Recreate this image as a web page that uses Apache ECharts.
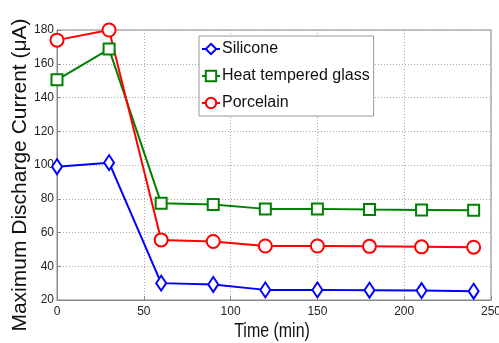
<!DOCTYPE html>
<html><head><meta charset="utf-8">
<script src="https://cdn.jsdelivr.net/npm/echarts@6/dist/echarts.min.js"></script>
<style>html,body{margin:0;padding:0;background:#fff}#c{width:499px;height:343px}</style>
</head><body><div id="c"></div>
<script>
const times = [0, 30, 60, 90, 120, 150, 180, 210, 240];
const silicone = [99, 101.4, 30, 29.2, 26, 26, 25.8, 25.6, 25.2];
const glass = [150.5, 168.7, 77.4, 76.6, 74, 74, 73.6, 73.4, 73.2];
const porcelain = [174, 180, 55.6, 54.7, 52, 52, 51.8, 51.5, 51.3];
const xTicks = [0, 50, 100, 150, 200, 250];
const yTicks = [20, 40, 60, 80, 100, 120, 140, 160, 180];
const xTitle = 'Time (min)';
const yTitle = 'Maximum Discharge Current (μA)';

const font = '"Liberation Sans", Arial, sans-serif';
function pairs(v){ return times.map((t,i)=>[t,v[i]]); }
function ser(name, data, color, symbol, size){
  return {name, type:'line', data:pairs(data), symbol, symbolSize:size,
    showSymbol:true, lineStyle:{color, width:2}, itemStyle:{color, borderColor:color, borderWidth:1.8},
    emphasis:{disabled:true}, z:3};
}
const chart = echarts.init(document.getElementById('c'), null, {renderer:'canvas'});
chart.setOption({
  animation:false,
  backgroundColor:'#fff',
  grid:{left:57, right:8, top:30, bottom:43, show:true, borderColor:'#888', borderWidth:1,
    containLabel:false, outerBoundsMode:'none'},
  xAxis:{type:'value', min:0, max:250, interval:50,
    axisLine:{show:true, lineStyle:{color:'#888'}},
    axisTick:{show:true, inside:true, length:4, lineStyle:{color:'#888'}},
    axisLabel:{fontFamily:font, fontSize:12, color:'#222', margin:6,
      formatter:v=>xTicks.includes(v)?String(v):''},
    splitLine:{show:true, lineStyle:{color:'#aaa', type:[1,2], width:1}}},
  yAxis:{type:'value', min:20, max:180, interval:20,
    axisLine:{show:true, lineStyle:{color:'#888'}},
    axisTick:{show:true, inside:true, length:4, lineStyle:{color:'#888'}},
    axisLabel:{fontFamily:font, fontSize:12, color:'#222', margin:3,
      formatter:v=>yTicks.includes(v)?String(v):''},
    splitLine:{show:true, lineStyle:{color:'#aaa', type:[1,2], width:1}}},
  graphic:[
    {type:'text', x:272, y:331, scaleX:0.76, style:{text:xTitle, font:'21px '+font, fill:'#111', align:'center', verticalAlign:'middle'}},
    {type:'text', x:20, y:175, rotation:Math.PI/2, style:{text:yTitle, font:'21px '+font, fill:'#111', align:'center', verticalAlign:'middle'}}
  ],
  legend:{left:199, top:36, orient:'vertical', itemGap:11, itemWidth:18, itemHeight:13,
    padding:[5,4,5,2], backgroundColor:'#fff', borderColor:'#999', borderWidth:1,
    textStyle:{fontFamily:font, fontSize:16, color:'#111', padding:[0,0,0,-3]},
    data:['Silicone','Heat tempered glass','Porcelain']},
  series:[
    ser('Silicone', silicone, '#0000ff', 'emptyDiamond', [10,15]),
    ser('Heat tempered glass', glass, '#008000', 'emptyRect', [11,11]),
    ser('Porcelain', porcelain, '#ff0000', 'emptyCircle', 13)
  ]
});
</script></body></html>
